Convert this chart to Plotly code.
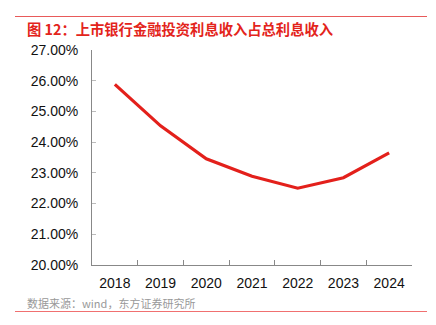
import plotly.graph_objects as go

years = ["2018", "2019", "2020", "2021", "2022", "2023", "2024"]
ratio = [25.88, 24.53, 23.46, 22.89, 22.50, 22.84, 23.65]
y_ticks = [20, 21, 22, 23, 24, 25, 26, 27]
y_labels = [f"{v:.2f}%" for v in y_ticks]

title_text = "图 12：上市银行金融投资利息收入占总利息收入"
source_text = "数据来源：wind，东方证券研究所"

fig = go.Figure()
fig.add_trace(go.Scatter(
    x=years, y=ratio, mode="lines",
    line=dict(color="#e3201b", width=3.2),
    hoverinfo="skip", showlegend=False,
))

W, H = 436, 325
l, r, t, b = 92, 24, 50, 60
pw, ph = W - l - r, H - t - b

def px(x):
    return (x - l) / pw

def py(y):
    return (H - b - y) / ph

fig.update_layout(
    width=W, height=H,
    margin=dict(l=l, r=r, t=t, b=b),
    paper_bgcolor="white", plot_bgcolor="white",
    font=dict(family="Liberation Sans, Arial, sans-serif", size=14, color="#111"),
    xaxis=dict(
        type="category", range=[-0.5, 6.5],
        showline=True, linecolor="#888", linewidth=1,
        ticks="inside", ticklen=5, tickcolor="#888", tickson="boundaries",
        showgrid=False, zeroline=False,
        tickfont=dict(size=14, color="#111"), ticklabelstandoff=5,
        fixedrange=True,
    ),
    yaxis=dict(
        range=[20, 27], tickvals=y_ticks, ticktext=y_labels,
        showline=True, linecolor="#888", linewidth=1,
        ticks="inside", ticklen=4, tickcolor="#bbb",
        showgrid=False, zeroline=False,
        tickfont=dict(size=14, color="#111"), ticklabelstandoff=10,
        fixedrange=True,
    ),
    shapes=[
        dict(type="line", xref="paper", yref="paper",
             x0=px(15), x1=px(427), y0=py(16.5), y1=py(16.5),
             line=dict(color="#e85a5a", width=1.2)),
        dict(type="line", xref="paper", yref="paper",
             x0=px(15), x1=px(427), y0=py(311.5), y1=py(311.5),
             line=dict(color="#f07070", width=1.2)),
    ],
    annotations=[
        dict(text=title_text, xref="paper", yref="paper",
             x=px(25), y=py(28), xanchor="left", yanchor="middle",
             showarrow=False,
             font=dict(family="Noto Sans CJK SC", size=14.3, color="#e3241b", weight="bold")),
        dict(text=source_text, xref="paper", yref="paper",
             x=px(25), y=py(303), xanchor="left", yanchor="middle",
             showarrow=False,
             font=dict(family="Noto Sans CJK SC", size=11, color="#999")),
    ],
)

fig.write_html("out.html")
